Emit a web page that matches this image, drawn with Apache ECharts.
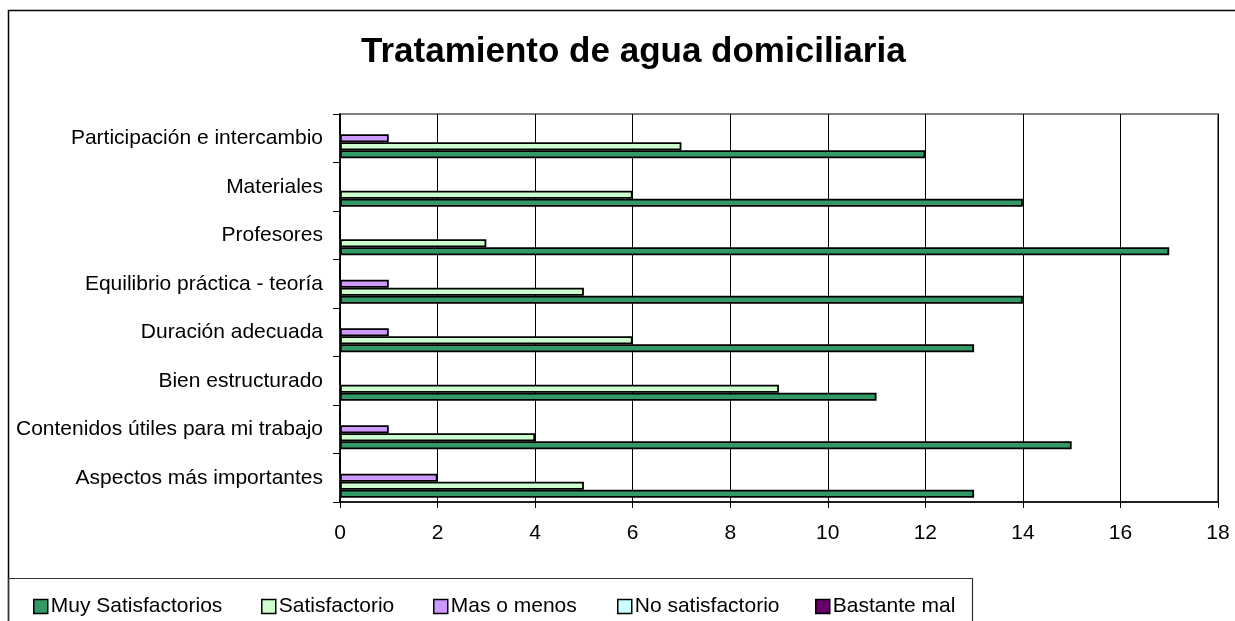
<!DOCTYPE html>
<html>
<head>
<meta charset="utf-8">
<title>Tratamiento de agua domiciliaria</title>
<script src="https://cdn.jsdelivr.net/npm/echarts@6/dist/echarts.min.js"></script>
<style>
html,body{margin:0;padding:0;background:#fff;}
#chart{width:1235px;height:621px;}
</style>
</head>
<body>
<div id="chart"></div>
<script>
// categorias de abajo hacia arriba (como en el eje de Excel)
var categorias = ['Aspectos más importantes', 'Contenidos útiles para mi trabajo', 'Bien estructurado',
    'Duración adecuada', 'Equilibrio práctica - teoría', 'Profesores', 'Materiales', 'Participación e intercambio'];
var muySatisfactorios = [13, 15, 11, 13, 14, 17, 14, 12];
var satisfactorio = [5, 4, 9, 6, 5, 3, 6, 7];
var masOMenos = [2, 1, 0, 1, 1, 0, 0, 1];
var noSatisfactorio = [0, 0, 0, 0, 0, 0, 0, 0];
var bastanteMal = [0, 0, 0, 0, 0, 0, 0, 0];
var ticksX = [0, 2, 4, 6, 8, 10, 12, 14, 16, 18];

window.onload = function () {
    var chart = echarts.init(document.getElementById('chart'));
    var fuente = "'Liberation Sans', Arial, sans-serif";

    function serie(nombre, datos, color) {
        return {
            name: nombre,
            type: 'bar',
            data: datos,
            barWidth: 8,
            barGap: '0%',
            itemStyle: { color: color, borderColor: '#000', borderWidth: 1.8 },
            emphasis: { disabled: true }
        };
    }

    function leyenda(nombre, x) {
        return {
            data: [nombre],
            left: x,
            top: 591,
            icon: 'rect',
            itemWidth: 14,
            itemHeight: 14,
            itemGap: 0,
            selectedMode: false,
            itemStyle: { borderColor: '#000', borderWidth: 1.5 },
            textStyle: { fontFamily: fuente, fontSize: 21, color: '#000', padding: [0, 0, 0, -2] }
        };
    }

    chart.setOption({
        backgroundColor: '#fff',
        animation: false,
        title: {
            text: 'Tratamiento de agua domiciliaria',
            left: 356,
            top: 30,
            textStyle: { fontFamily: fuente, fontSize: 35, fontWeight: 'bold', color: '#000' }
        },
        graphic: [
            { type: 'rect', shape: { x: 8.5, y: 10.5, width: 1240, height: 620 },
              style: { fill: null, stroke: '#000', lineWidth: 1.5 }, silent: true },
            { type: 'rect', shape: { x: 8.5, y: 578.5, width: 964, height: 60 },
              style: { fill: null, stroke: '#333', lineWidth: 1.2 }, silent: true }
        ],
        legend: [
            leyenda('Muy Satisfactorios', 28),
            leyenda('Satisfactorio', 256),
            leyenda('Mas o menos', 428),
            leyenda('No satisfactorio', 612),
            leyenda('Bastante mal', 810)
        ],
        grid: {
            left: 340, top: 114, right: 17, bottom: 119,
            show: true, borderColor: '#808080', borderWidth: 2
        },
        xAxis: {
            type: 'value',
            min: ticksX[0],
            max: ticksX[ticksX.length - 1],
            interval: 2,
            axisLine: { show: true, lineStyle: { color: '#000', width: 1.5 } },
            axisTick: { show: true, length: 6, lineStyle: { color: '#000' } },
            axisLabel: { fontFamily: fuente, fontSize: 21, color: '#000', margin: 21 },
            splitLine: { show: true, lineStyle: { color: '#000', width: 1 } }
        },
        yAxis: {
            type: 'category',
            data: categorias,
            axisLine: { show: true, lineStyle: { color: '#000', width: 1.5 } },
            axisTick: { show: true, length: 7, lineStyle: { color: '#000' } },
            axisLabel: { fontFamily: fuente, fontSize: 21, color: '#000', margin: 17 }
        },
        // orden inverso: la primera serie queda arriba en cada grupo
        series: [
            serie('Bastante mal', bastanteMal, '#660066'),
            serie('No satisfactorio', noSatisfactorio, '#CCFFFF'),
            serie('Mas o menos', masOMenos, '#CC99FF'),
            serie('Satisfactorio', satisfactorio, '#CCFFCC'),
            serie('Muy Satisfactorios', muySatisfactorios, '#339966')
        ]
    });
};
</script>
</body>
</html>
